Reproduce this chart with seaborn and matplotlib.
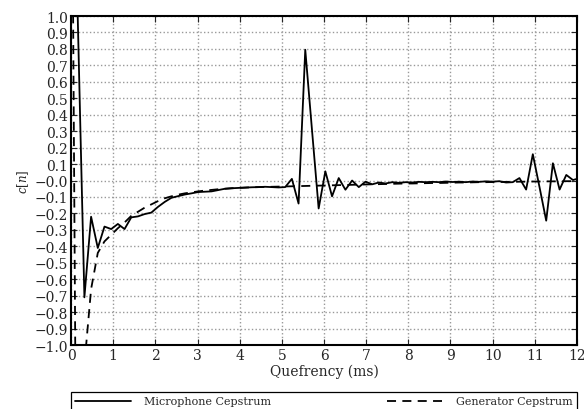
import numpy as np
import pandas as pd
import seaborn as sns
import matplotlib
matplotlib.use("Agg")
import matplotlib.pyplot as plt

# sample period of the cepstra (ms)
dt = 7 / 44.1

# values, one per sample
mic_cepstrum = [5.0, 1.0, -0.71, -0.22, -0.41, -0.28, -0.295, -0.264, -0.295, -0.224,
                -0.218, -0.204, -0.195, -0.16, -0.13, -0.105, -0.095, -0.085, -0.078, -0.07,
                -0.068, -0.066, -0.058, -0.05, -0.047, -0.045, -0.043, -0.041, -0.04, -0.038,
                -0.04, -0.042, -0.04, 0.01, -0.14, 0.795, 0.31, -0.17, 0.056, -0.096,
                0.015, -0.056, 0.0, -0.04, -0.007, -0.023, -0.012, -0.018, -0.01, -0.014,
                -0.01, -0.012, -0.008, -0.01, -0.008, -0.01, -0.006, -0.009, -0.007, -0.01,
                -0.006, -0.008, -0.005, -0.007, -0.004, -0.012, -0.01, 0.015, -0.055, 0.16,
                -0.04, -0.244, 0.105, -0.055, 0.034, 0.003, 0.015]

gen_cepstrum = [3.0, -3.35, -1.12, -0.66, -0.44, -0.37, -0.33, -0.29, -0.255, -0.215,
                -0.19, -0.165, -0.145, -0.125, -0.108, -0.096, -0.086, -0.078, -0.072, -0.066,
                -0.061, -0.057, -0.053, -0.05, -0.047, -0.045, -0.043, -0.041, -0.04, -0.039,
                -0.038, -0.037, -0.036, -0.035, -0.034, -0.033, -0.032, -0.031, -0.03, -0.029,
                -0.028, -0.027, -0.026, -0.025, -0.024, -0.023, -0.022, -0.021, -0.02, -0.019,
                -0.018, -0.018, -0.017, -0.016, -0.015, -0.015, -0.014, -0.013, -0.012, -0.012,
                -0.011, -0.01, -0.01, -0.009, -0.009, -0.008, -0.008, -0.007, -0.007, -0.006,
                -0.006, -0.005, -0.005, -0.005, -0.004, -0.004, -0.004]

labels = ["Microphone Cepstrum", "Generator Cepstrum"]

quefrency = np.arange(len(mic_cepstrum)) * dt
df_mic = pd.DataFrame({"q": quefrency, "c": mic_cepstrum})
df_gen = pd.DataFrame({"q": quefrency[:len(gen_cepstrum)], "c": gen_cepstrum})

sns.set_style("ticks")
plt.rcParams["font.family"] = ["DejaVu Serif"]
plt.rcParams["mathtext.fontset"] = "dejavuserif"
plt.rcParams["axes.unicode_minus"] = True

fig = plt.figure(figsize=(5.84, 4.10), dpi=100)
ax = fig.add_axes([0.1216, 0.156, 0.8664, 0.8025])

sns.lineplot(data=df_mic, x="q", y="c", ax=ax, color="black", lw=1.3,
             sort=False, label=labels[0])
sns.lineplot(data=df_gen, x="q", y="c", ax=ax, color="black", lw=1.3,
             sort=False, linestyle=(0, (5, 3.5)), label=labels[1])

ax.set_xlim(0, 12)
ax.set_ylim(-1, 1)
yt = np.round(np.arange(-1.0, 1.01, 0.1), 1)
ax.set_xticks(np.arange(0, 13, 1))
ax.set_yticks(yt)
ax.set_yticklabels([f"{v:.1f}".replace("-", "\u2212") for v in yt])
ax.tick_params(direction="in", top=True, right=True, labelsize=10, length=4,
               width=0.8, pad=2)
ax.grid(True, linestyle=":", color="0.6", lw=1.0)
for sp in ax.spines.values():
    sp.set_linewidth(1.5)
    sp.set_color("black")

ax.set_xlabel("Quefrency (ms)", fontsize=10, labelpad=1)
ax.set_ylabel(r"$c[n]$", fontsize=8.5, labelpad=3)

leg = ax.legend(loc="upper left", bbox_to_anchor=(0, -0.1427, 1, 0), mode="expand",
                ncol=2, borderaxespad=0, fontsize=8, handlelength=5.0,
                handletextpad=1.2, fancybox=False, framealpha=1, edgecolor="black")
leg.get_frame().set_linewidth(0.9)

fig.savefig("out.png", dpi=100)
